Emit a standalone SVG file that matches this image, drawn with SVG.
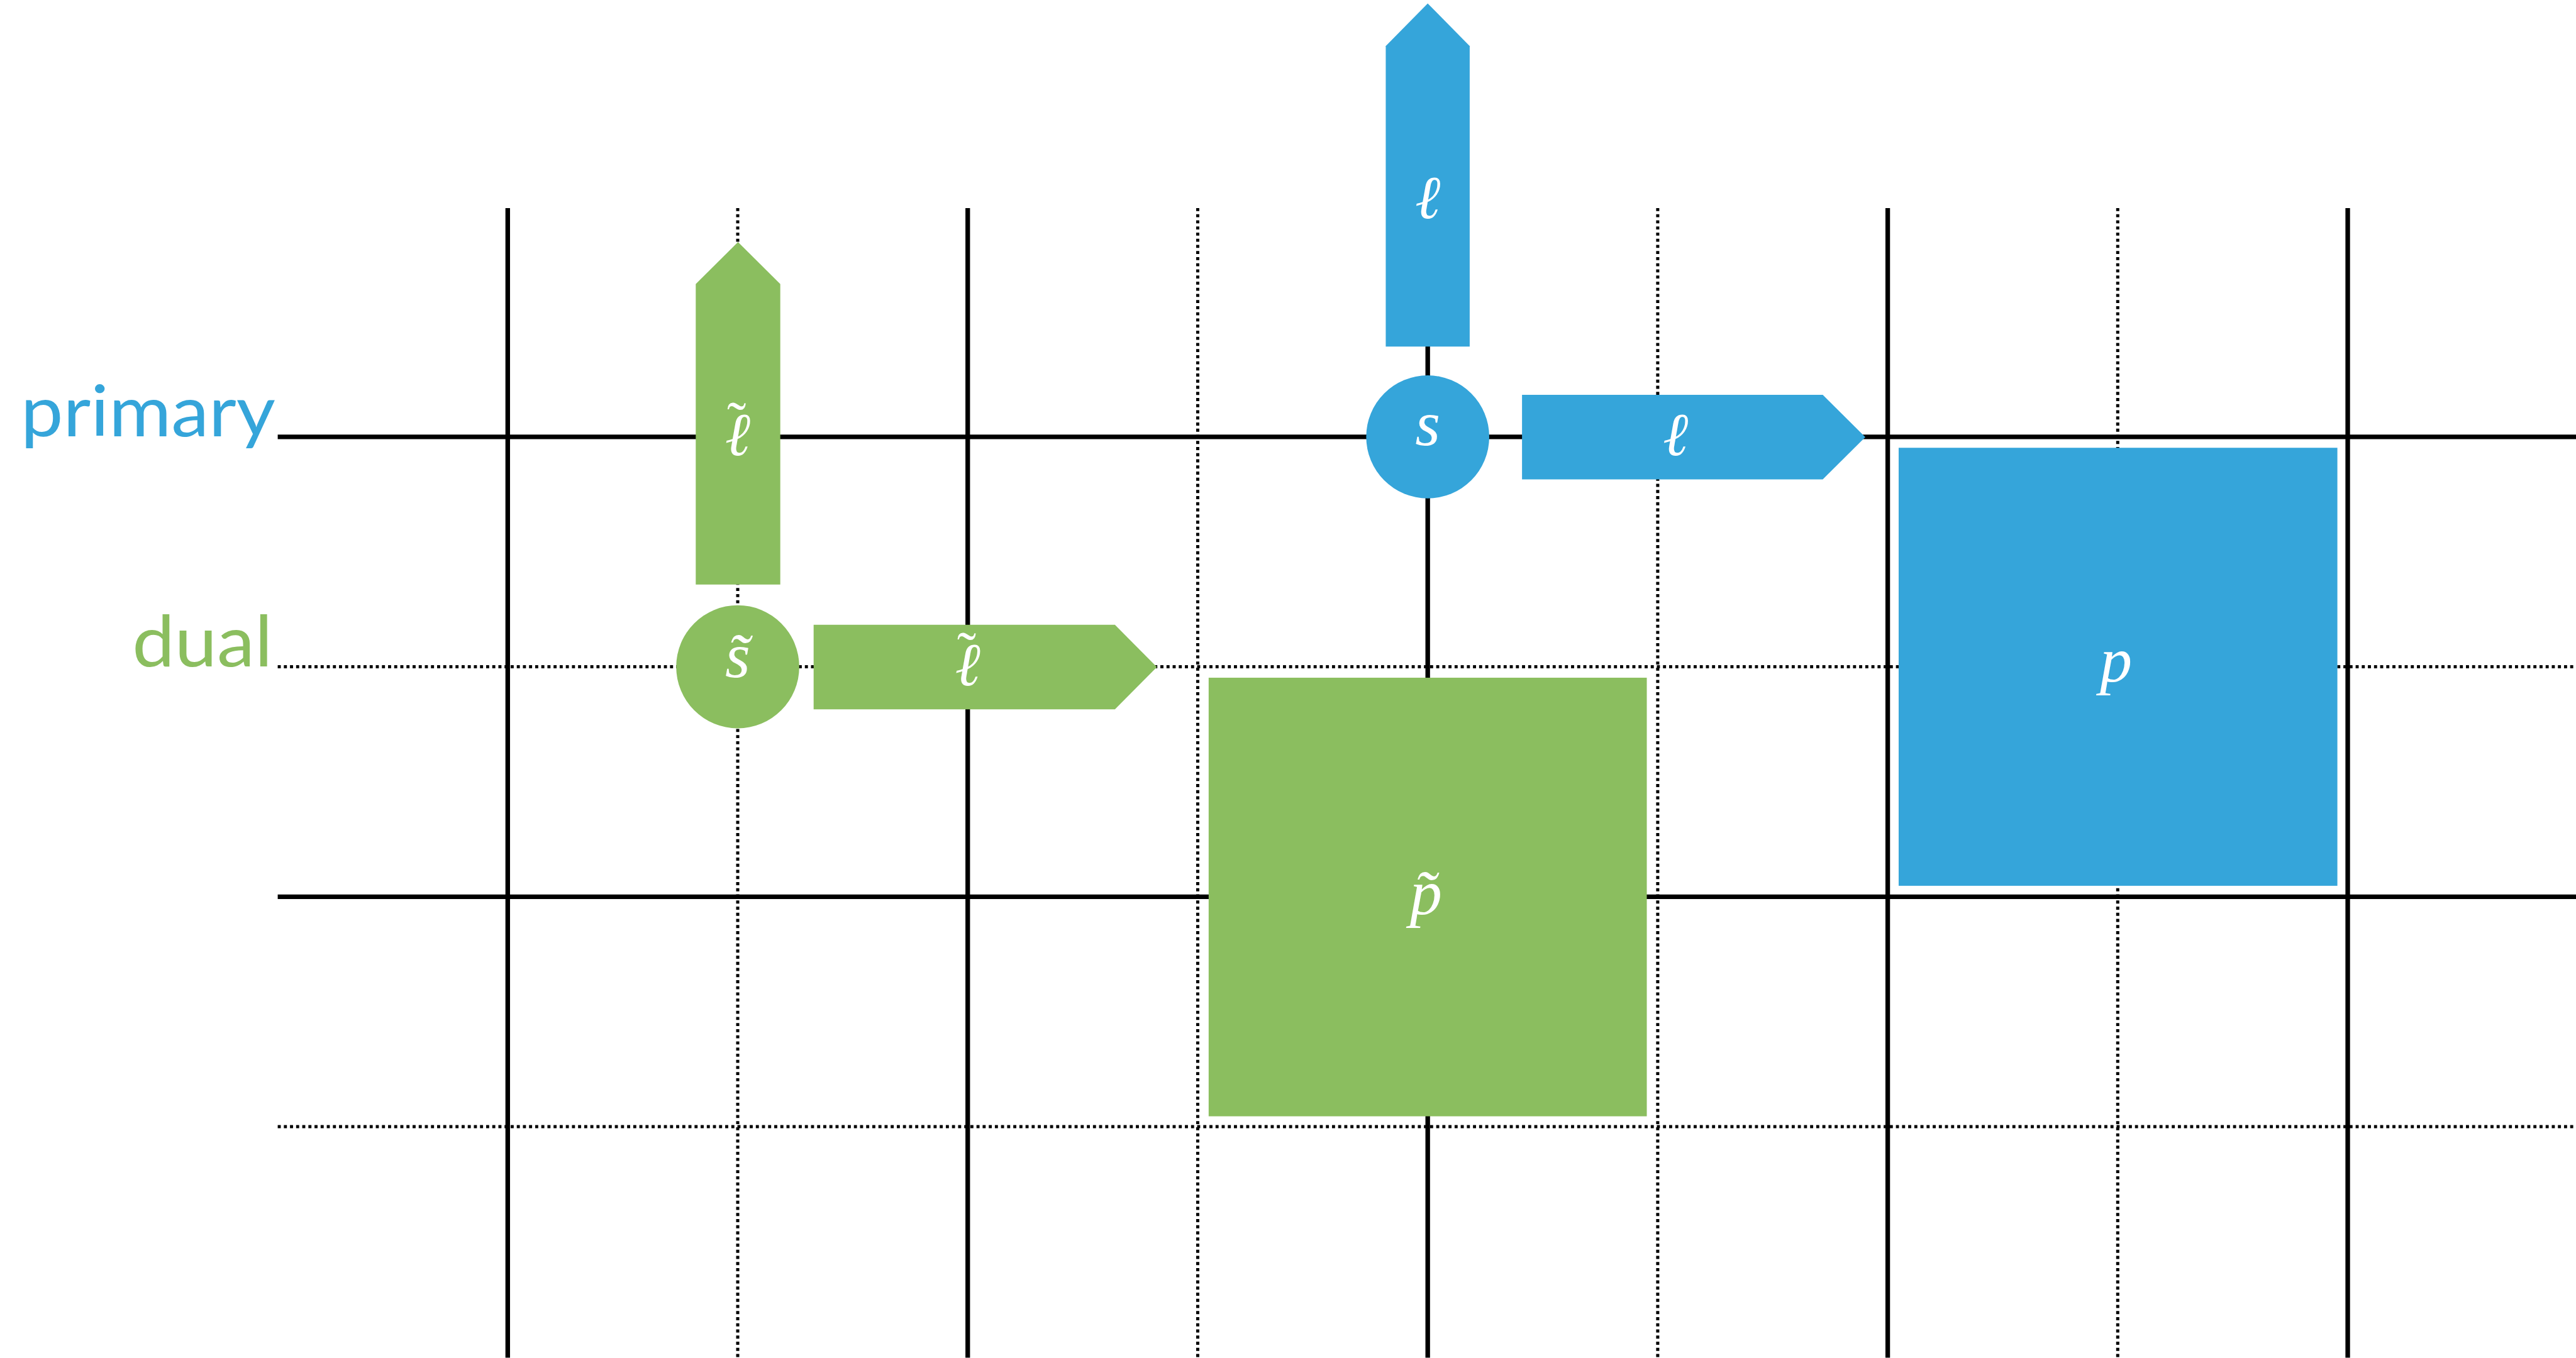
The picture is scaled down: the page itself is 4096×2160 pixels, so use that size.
<svg xmlns="http://www.w3.org/2000/svg" width="4096" height="2160" viewBox="0 0 4096 2160">
<style>
.solid{stroke:#000;stroke-width:8;fill:none}
.dot{stroke:#000;stroke-width:5.5;stroke-dasharray:5.33 5.33;fill:none}
.blue{fill:#35a5da}
.green{fill:#8bbe5f}
.math{fill:#fff;font-family:"Liberation Serif","DejaVu Serif",serif;font-style:italic;font-size:112px;text-anchor:middle}
.ell{fill:#fff;font-family:"DejaVu Serif",serif;font-style:italic;font-size:106px;text-anchor:middle}
.tl{font-family:"Liberation Serif",serif;font-style:normal;font-size:100px}
.side{font-family:Lato,"Noto Sans",sans-serif;font-size:124px}
</style>
<rect width="4096" height="2160" fill="#fff"/>
<g transform="scale(0.9142857)">
<g id="grid">
<path class="solid" d="M883 362V2362M1683 362V2362M2483 362V2362M3283 362V2362M4083 362V2362M483 760H4480M483 1560H4480"/>
<path class="dot" d="M1283 362V2362M2083 362V2362M2883 362V2362M3683 362V2362M483 1160H4480M483 1960H4480"/>
</g>
<g id="label-primary"><text class="side" x="36" y="759" fill="#35a5da" textLength="443" lengthAdjust="spacingAndGlyphs">primary</text></g>
<g id="label-dual"><text class="side" x="230" y="1159" fill="#8bbe5f" textLength="244" lengthAdjust="spacingAndGlyphs">dual</text></g>
<g id="dual-line-vertical">
<polygon class="green" points="1210,1017 1210,494 1283.5,421 1357,494 1357,1017"/>
<text class="ell" x="1283" y="792">ℓ<tspan class="tl" x="1281" y="768">˜</tspan></text>
</g>
<g id="dual-site">
<circle class="green" cx="1283" cy="1160" r="107"/>
<text class="math" x="1283" y="1178">s̃</text>
</g>
<g id="dual-line-horizontal">
<polygon class="green" points="1415,1087 1939,1087 2012,1160.5 1939,1234 1415,1234"/>
<text class="ell" x="1683" y="1192">ℓ<tspan class="tl" x="1681" y="1168">˜</tspan></text>
</g>
<g id="dual-plaquette">
<rect class="green" x="2102" y="1179" width="762" height="763"/>
<text class="math" x="2480" y="1590">p̃</text>
</g>
<g id="primary-line-vertical">
<polygon class="blue" points="2410,603 2410,80 2483,6 2556,80 2556,603"/>
<text class="ell" x="2483" y="379">ℓ</text>
</g>
<g id="primary-site">
<circle class="blue" cx="2483" cy="760" r="107"/>
<text class="math" x="2483" y="774">s</text>
</g>
<g id="primary-line-horizontal">
<polygon class="blue" points="2647,687 3170,687 3244,760.5 3170,834 2647,834"/>
<text class="ell" x="2914" y="792">ℓ</text>
</g>
<g id="primary-plaquette">
<rect class="blue" x="3302" y="779" width="763" height="762"/>
<text class="math" x="3680" y="1186">p</text>
</g>
</g>
</svg>
